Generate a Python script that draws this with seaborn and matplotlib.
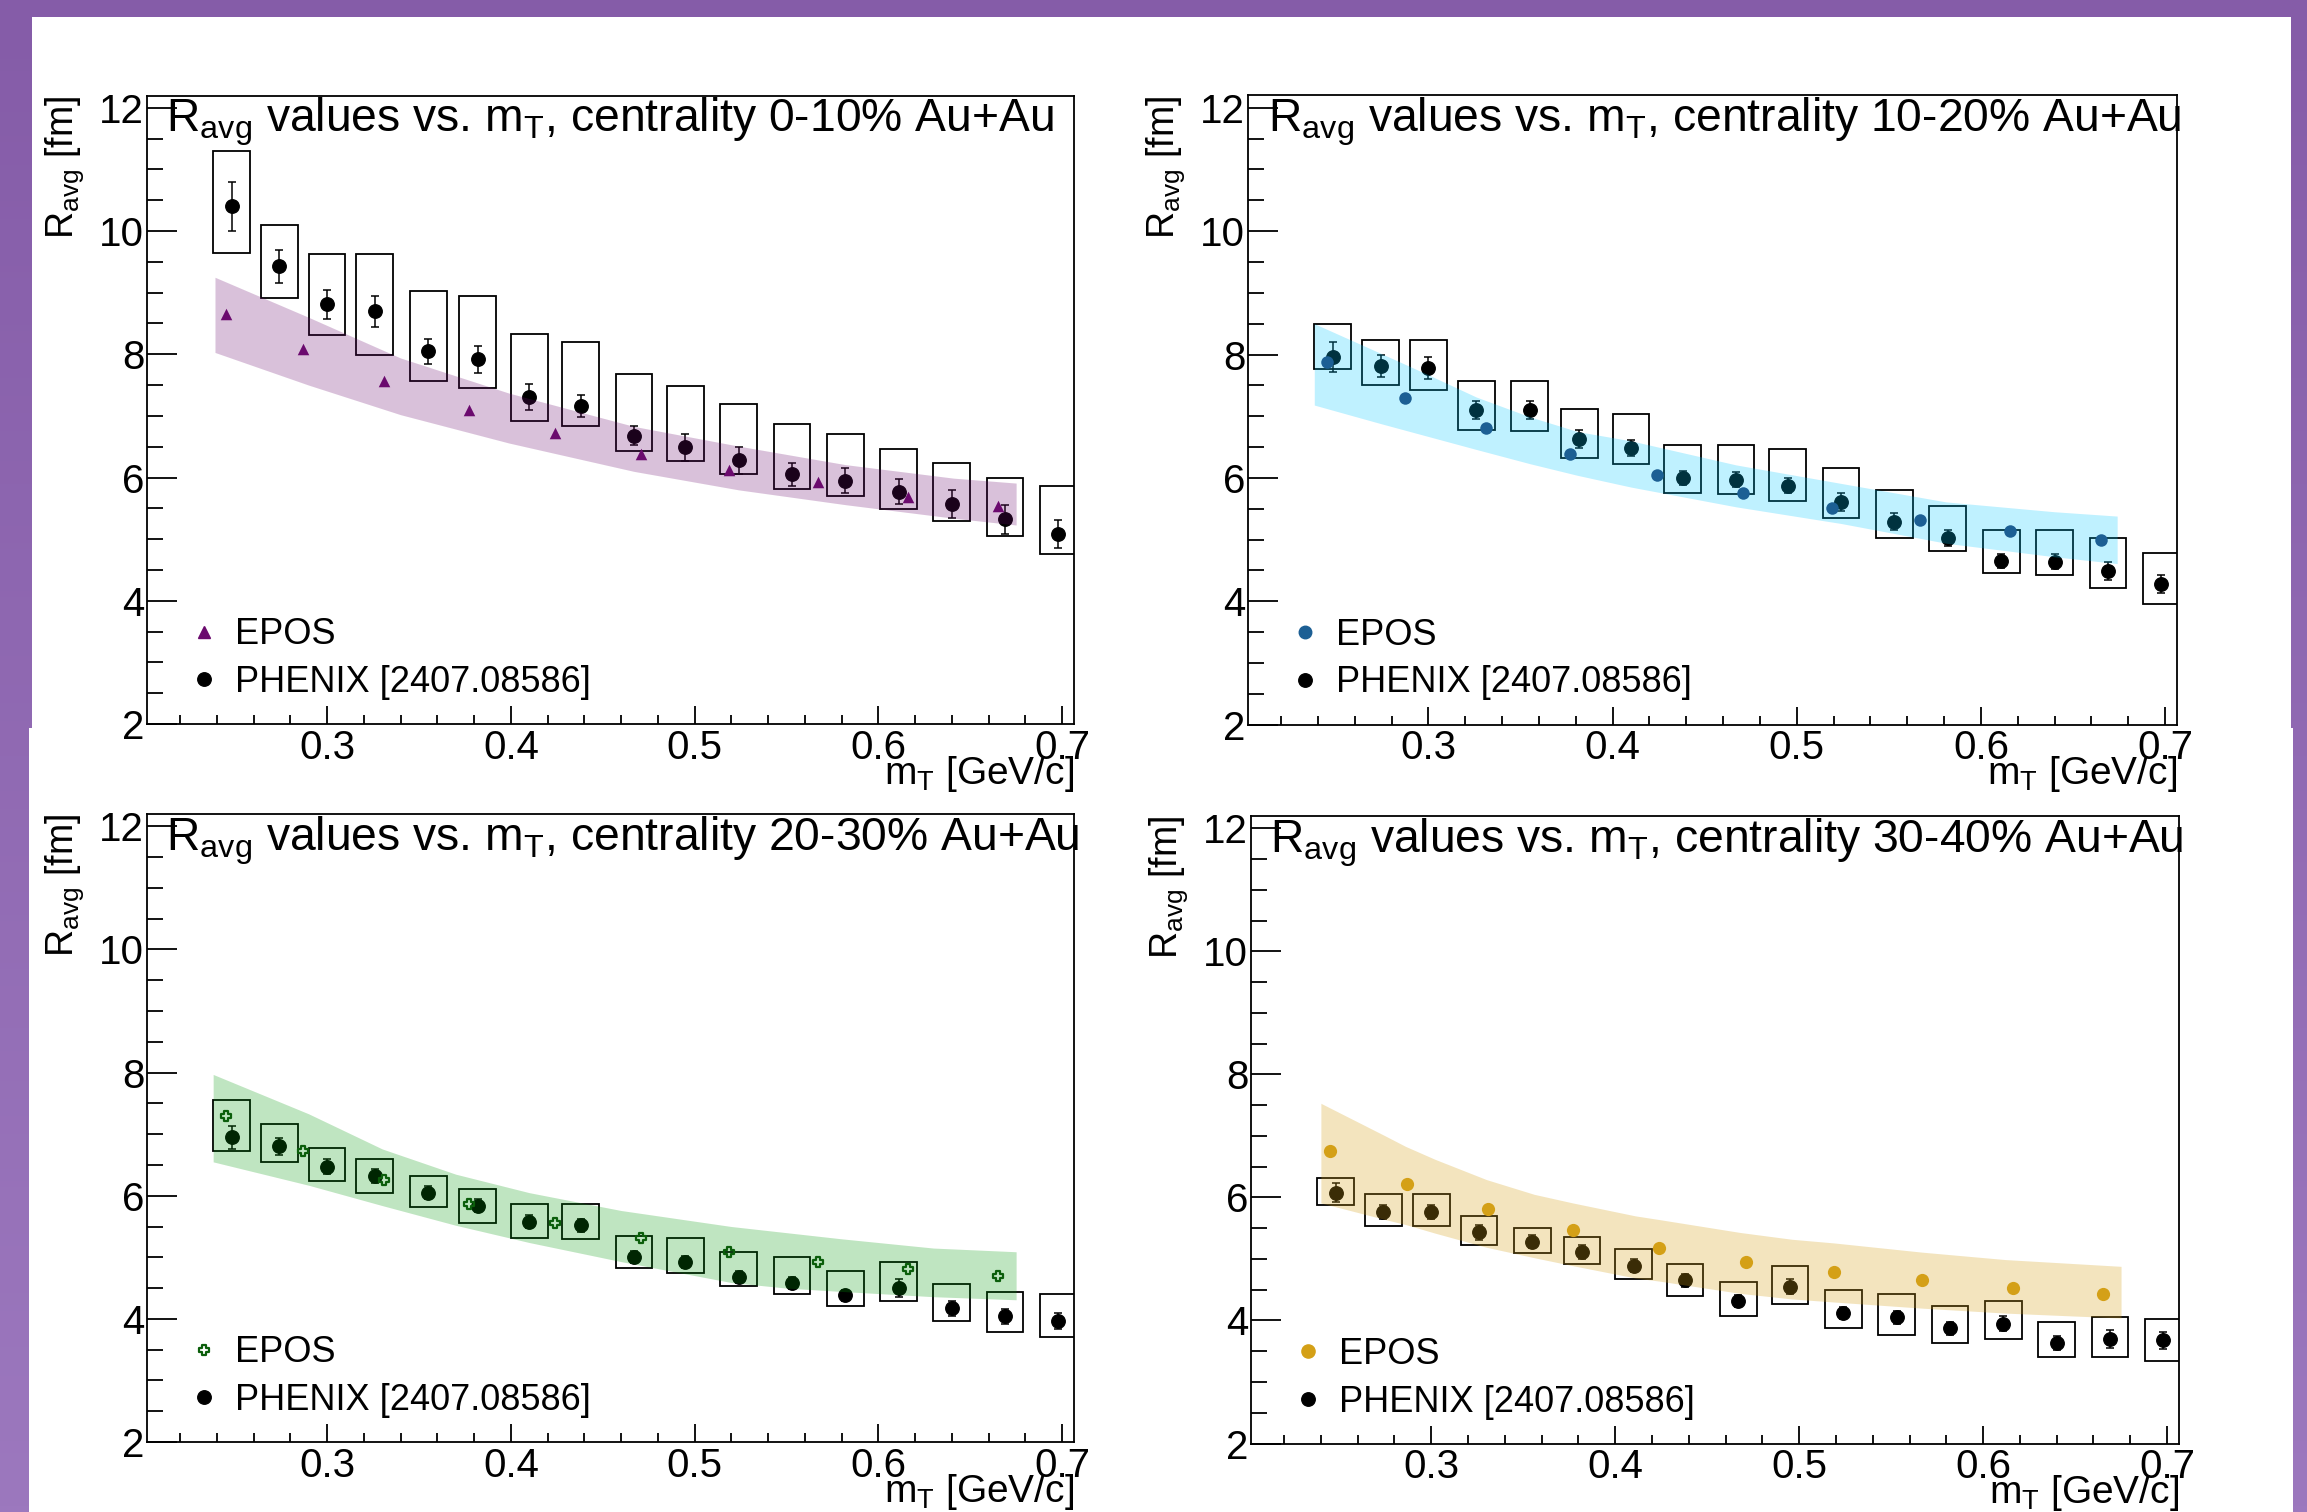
import numpy as np
import matplotlib
matplotlib.use("Agg")
import matplotlib.pyplot as plt
import seaborn as sns
from matplotlib.lines import Line2D
from matplotlib.path import Path
from matplotlib.patches import Rectangle
from matplotlib.ticker import MultipleLocator, FormatStrFormatter

sns.set_theme(style="ticks")
plt.rcParams["font.family"] = ["Liberation Sans", "DejaVu Sans"]
plt.rcParams["mathtext.fontset"] = "custom"
plt.rcParams["mathtext.rm"] = "Liberation Sans"
plt.rcParams["mathtext.it"] = "Liberation Sans:italic"
plt.rcParams["mathtext.bf"] = "Liberation Sans:bold"
for key in ["text.color", "axes.labelcolor", "xtick.color", "ytick.color", "axes.edgecolor"]:
    plt.rcParams[key] = "black"

# ---------------- data ----------------
phenix_mt = [0.248, 0.274, 0.300, 0.326, 0.355, 0.382, 0.410, 0.438, 0.467,
             0.495, 0.524, 0.553, 0.582, 0.611, 0.640, 0.669, 0.698]
epos_mt = [0.245, 0.287, 0.331, 0.377, 0.424, 0.471, 0.519, 0.567, 0.616, 0.665]

# centrality 0-10%
c0_phenix = [10.40, 9.43, 8.81, 8.70, 8.05, 7.92, 7.31, 7.16, 6.68, 6.49, 6.28, 6.05, 5.95, 5.77, 5.57, 5.32, 5.08]
c0_stat = [0.40, 0.27, 0.23, 0.25, 0.20, 0.22, 0.21, 0.18, 0.16, 0.22, 0.22, 0.19, 0.20, 0.20, 0.23, 0.23, 0.23]
c0_sys_lo = [9.64, 8.91, 8.32, 7.99, 7.57, 7.45, 6.91, 6.84, 6.43, 6.27, 6.05, 5.81, 5.70, 5.49, 5.30, 5.05, 4.76]
c0_sys_hi = [11.30, 10.10, 9.62, 9.62, 9.03, 8.95, 8.33, 8.20, 7.68, 7.49, 7.19, 6.87, 6.70, 6.46, 6.24, 6.00, 5.87]
c0_epos = [8.65, 8.08, 7.57, 7.10, 6.72, 6.39, 6.13, 5.92, 5.69, 5.54]
c0_band_mt = [0.239, 0.290, 0.340, 0.399, 0.467, 0.524, 0.582, 0.641, 0.675]
c0_band_lo = [8.03, 7.50, 7.02, 6.56, 6.10, 5.80, 5.56, 5.34, 5.23]
c0_band_hi = [9.25, 8.60, 7.94, 7.37, 6.83, 6.51, 6.21, 5.99, 5.91]

# centrality 10-20%
c1_phenix = [7.96, 7.81, 7.78, 7.10, 7.10, 6.63, 6.49, 6.00, 5.97, 5.87, 5.61, 5.29, 5.03, 4.65, 4.64, 4.49, 4.28]
c1_stat = [0.24, 0.18, 0.18, 0.14, 0.14, 0.14, 0.13, 0.11, 0.12, 0.12, 0.14, 0.14, 0.13, 0.12, 0.12, 0.14, 0.14]
c1_sys_lo = [7.76, 7.51, 7.43, 6.78, 6.76, 6.32, 6.22, 5.76, 5.73, 5.62, 5.35, 5.03, 4.81, 4.46, 4.43, 4.22, 3.95]
c1_sys_hi = [8.49, 8.24, 8.24, 7.57, 7.57, 7.11, 7.03, 6.54, 6.54, 6.46, 6.16, 5.81, 5.54, 5.16, 5.16, 5.03, 4.78]
c1_epos = [7.88, 7.30, 6.81, 6.38, 6.05, 5.76, 5.51, 5.32, 5.14, 5.00]
c1_band_mt = [0.238, 0.274, 0.300, 0.326, 0.355, 0.381, 0.410, 0.467, 0.524, 0.581, 0.640, 0.674]
c1_band_lo = [7.18, 6.88, 6.67, 6.46, 6.23, 6.04, 5.85, 5.53, 5.26, 4.94, 4.72, 4.61]
c1_band_hi = [8.50, 8.02, 7.67, 7.31, 6.99, 6.75, 6.60, 6.21, 5.91, 5.61, 5.45, 5.38]

# centrality 20-30%
c2_phenix = [6.95, 6.80, 6.47, 6.32, 6.05, 5.84, 5.58, 5.52, 5.00, 4.92, 4.68, 4.58, 4.38, 4.50, 4.17, 4.04, 3.97]
c2_stat = [0.19, 0.14, 0.12, 0.12, 0.11, 0.11, 0.11, 0.11, 0.10, 0.10, 0.10, 0.10, 0.09, 0.14, 0.12, 0.12, 0.13]
c2_sys_lo = [6.72, 6.54, 6.24, 6.05, 5.81, 5.56, 5.32, 5.29, 4.83, 4.75, 4.54, 4.40, 4.21, 4.29, 3.97, 3.78, 3.70]
c2_sys_hi = [7.56, 7.16, 6.78, 6.60, 6.32, 6.11, 5.86, 5.87, 5.35, 5.32, 5.08, 5.00, 4.78, 4.92, 4.56, 4.43, 4.40]
c2_epos = [7.29, 6.72, 6.25, 5.86, 5.56, 5.31, 5.09, 4.93, 4.81, 4.69]
c2_band_mt = [0.238, 0.290, 0.330, 0.370, 0.410, 0.460, 0.520, 0.550, 0.580, 0.630, 0.675]
c2_band_lo = [6.55, 6.17, 5.84, 5.52, 5.24, 4.93, 4.59, 4.50, 4.445, 4.36, 4.31]
c2_band_hi = [7.97, 7.33, 6.76, 6.35, 6.05, 5.76, 5.50, 5.40, 5.30, 5.15, 5.09]

# centrality 30-40%
c3_phenix = [6.08, 5.76, 5.76, 5.43, 5.28, 5.11, 4.89, 4.65, 4.32, 4.55, 4.12, 4.05, 3.87, 3.95, 3.63, 3.70, 3.68]
c3_stat = [0.16, 0.11, 0.11, 0.12, 0.11, 0.11, 0.11, 0.11, 0.10, 0.12, 0.10, 0.10, 0.10, 0.12, 0.11, 0.14, 0.14]
c3_sys_lo = [5.88, 5.53, 5.53, 5.23, 5.10, 4.91, 4.67, 4.40, 4.07, 4.26, 3.88, 3.77, 3.64, 3.70, 3.40, 3.40, 3.34]
c3_sys_hi = [6.32, 6.05, 6.05, 5.70, 5.51, 5.35, 5.16, 4.92, 4.62, 4.89, 4.49, 4.43, 4.24, 4.32, 3.97, 4.05, 4.03]
c3_epos = [6.76, 6.22, 5.81, 5.47, 5.18, 4.95, 4.78, 4.65, 4.53, 4.43]
c3_band_mt = [0.240, 0.275, 0.286, 0.302, 0.330, 0.356, 0.377, 0.411, 0.424, 0.468, 0.496, 0.519, 0.567, 0.612, 0.675]
c3_band_lo = [5.91, 5.64, 5.56, 5.42, 5.19, 5.02, 4.89, 4.69, 4.64, 4.44, 4.35, 4.30, 4.20, 4.12, 4.04]
c3_band_hi = [7.53, 7.00, 6.83, 6.62, 6.29, 6.05, 5.91, 5.70, 5.64, 5.43, 5.32, 5.26, 5.11, 4.99, 4.88]

centralities = ["0-10%", "10-20%", "20-30%", "30-40%"]

# open cross marker (ROOT style 28)
a = 0.36
cross = Path([(-a, 1), (a, 1), (a, a), (1, a), (1, -a), (a, -a), (a, -1), (-a, -1),
              (-a, -a), (-1, -a), (-1, a), (-a, a), (-a, 1)], closed=True)

panels = [
    dict(rect=[0.06372, 0.52116, 0.40182, 0.41567], phenix=c0_phenix, stat=c0_stat,
         lo=c0_sys_lo, hi=c0_sys_hi, epos=c0_epos, bx=c0_band_mt, blo=c0_band_lo, bhi=c0_band_hi,
         marker="^", size=8.3, color="#6b0a6e", band="#6b0a6e", alpha=0.25, filled=True),
    dict(rect=[0.54096, 0.52083, 0.40269, 0.41601], phenix=c1_phenix, stat=c1_stat,
         lo=c1_sys_lo, hi=c1_sys_hi, epos=c1_epos, bx=c1_band_mt, blo=c1_band_lo, bhi=c1_band_hi,
         marker="o", size=9.0, color="#1c5f94", band="#00c8ff", alpha=0.25, filled=True),
    dict(rect=[0.06372, 0.04630, 0.40182, 0.41534], phenix=c2_phenix, stat=c2_stat,
         lo=c2_sys_lo, hi=c2_sys_hi, epos=c2_epos, bx=c2_band_mt, blo=c2_band_lo, bhi=c2_band_hi,
         marker=cross, size=7.0, color="#0b5e0b", band="#00990a", alpha=0.25, filled=False),
    dict(rect=[0.54226, 0.04530, 0.40225, 0.41501], phenix=c3_phenix, stat=c3_stat,
         lo=c3_sys_lo, hi=c3_sys_hi, epos=c3_epos, bx=c3_band_mt, blo=c3_band_lo, bhi=c3_band_hi,
         marker="o", size=9.5, color="#d4a017", band="#d4a017", alpha=0.28, filled=True),
]

W, H = 2307, 1512
fig = plt.figure(figsize=(W / 100, H / 100), dpi=100)

# slide background: purple frame with white page
bg = fig.add_axes([0, 0, 1, 1], zorder=-10)
top_c = np.array([133, 92, 168]) / 255
bot_c = np.array([156, 120, 190]) / 255
t = np.linspace(0, 1, 256)[:, None, None]
bg.imshow(top_c * (1 - t) + bot_c * t, aspect="auto", extent=[0, 1, 0, 1])
bg.add_patch(Rectangle((32 / W, 1 - 728 / H), (2291 - 32) / W, (728 - 17) / H, color="white", lw=0))
bg.add_patch(Rectangle((29 / W, 0), (2293 - 29) / W, 1 - 728 / H, color="white", lw=0))
bg.set_xlim(0, 1)
bg.set_ylim(0, 1)
bg.axis("off")

for p, cent in zip(panels, centralities):
    ax = fig.add_axes(p["rect"])
    ax.set_facecolor("white")

    # systematic boxes
    ax.bar(phenix_mt, np.subtract(p["hi"], p["lo"]), bottom=p["lo"], width=0.02,
           fill=False, edgecolor="black", linewidth=1.3, zorder=2)
    # PHENIX points with statistical errors
    ax.errorbar(phenix_mt, p["phenix"], yerr=p["stat"], fmt="o", color="black",
                ms=9.7, elinewidth=1.1, capsize=2.9, capthick=1.1, zorder=3)
    # EPOS band
    ax.fill_between(p["bx"], p["blo"], p["bhi"], color=p["band"], alpha=p["alpha"],
                    lw=0, zorder=4)
    # EPOS points
    if p["filled"]:
        sns.scatterplot(x=epos_mt, y=p["epos"], marker=p["marker"], s=p["size"] ** 2,
                        color=p["color"], edgecolor=p["color"], linewidth=0, ax=ax, zorder=5)
        epos_handle = Line2D([], [], ls="none", marker=p["marker"], ms=p["size"],
                             color=p["color"])
    else:
        ax.plot(epos_mt, p["epos"], ls="none", marker=p["marker"], ms=p["size"],
                mfc="none", mec=p["color"], mew=1.6, zorder=5)
        epos_handle = Line2D([], [], ls="none", marker=p["marker"], ms=p["size"],
                             mfc="none", mec=p["color"], mew=1.6)
    phenix_handle = Line2D([], [], ls="none", marker="o", ms=9.7, color="black")

    ax.set_xlim(0.202, 0.7065)
    ax.set_ylim(2, 12.2)
    ax.xaxis.set_major_locator(MultipleLocator(0.1))
    ax.xaxis.set_minor_locator(MultipleLocator(0.02))
    ax.yaxis.set_major_locator(MultipleLocator(2))
    ax.yaxis.set_minor_locator(MultipleLocator(0.5))
    ax.xaxis.set_major_formatter(FormatStrFormatter("%.1f"))
    ax.yaxis.set_major_formatter(FormatStrFormatter("%d"))
    ax.tick_params(which="both", direction="in", top=False, right=False, width=1.3,
                   labelsize=29)
    ax.tick_params(axis="x", which="major", length=13.3, pad=3.5)
    ax.tick_params(axis="x", which="minor", length=6.8)
    ax.tick_params(axis="y", which="major", length=21.6, pad=2)
    ax.tick_params(axis="y", which="minor", length=11.5)
    for s in ax.spines.values():
        s.set_linewidth(1.3)
        s.set_color("black")
    ax.set_xlabel("")
    ax.set_ylabel("")

    ax.text(0.021, 0.942, r"$\mathrm{R_{avg}}$ values vs. $\mathrm{m_{T}}$, centrality "
            + cent + " Au+Au", transform=ax.transAxes, fontsize=33.3,
            ha="left", va="baseline", zorder=6)
    ax.text(-0.089, 1.0, r"$\mathrm{R_{avg}}$ [fm]", transform=ax.transAxes, fontsize=27,
            rotation=90, ha="center", va="top")
    ax.text(1.0, -0.095, r"$\mathrm{m_{T}}$ [GeV/c]", transform=ax.transAxes, fontsize=28,
            ha="right", va="baseline")

    ax.legend([epos_handle, phenix_handle], ["EPOS", "PHENIX [2407.08586]"],
              loc="center left", bbox_to_anchor=(0.042, 0.104), frameon=False,
              fontsize=26, handlelength=1.0, handletextpad=0.36, labelspacing=0.35,
              borderpad=0, borderaxespad=0)

fig.savefig("out.png", dpi=100)
